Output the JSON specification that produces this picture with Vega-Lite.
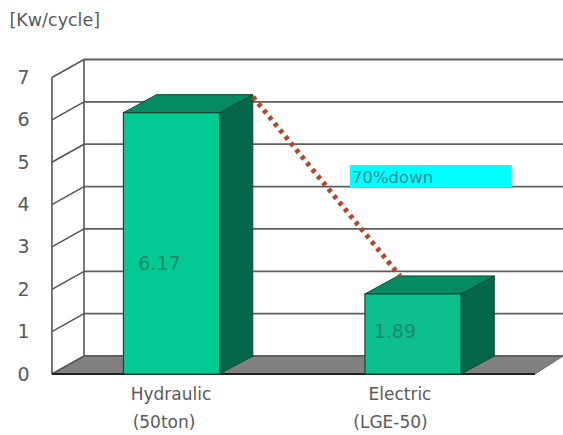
{
"$schema":"https://vega.github.io/schema/vega-lite/v6.json",
"width":563,"height":435,"padding":0,"autosize":{"type":"none"},
"background":"white","view":{"stroke":null},
"config":{"font":"DejaVu Sans"},
"datasets":{
"bars":[{"name":"Hydraulic","c":0,"left":-0.199,"right":0.199,"value":6.17},{"name":"Electric","c":1,"left":0.801,"right":1.199,"value":1.89}],
"sides":[{"name":"Hydraulic","px":0.199,"top":6.17,"base":0},{"name":"Hydraulic","px":0.3366,"top":6.595,"base":0.425},{"name":"Electric","px":1.199,"top":1.89,"base":0},{"name":"Electric","px":1.3366,"top":2.315,"base":0.425}],
"tops":[{"name":"Hydraulic","lv":6.17,"a":-0.199,"b":0.199},{"name":"Hydraulic","lv":6.595,"a":-0.0624,"b":0.3366},{"name":"Electric","lv":1.89,"a":0.801,"b":1.199},{"name":"Electric","lv":2.315,"a":0.9376,"b":1.3366}],
"floor":[{"lv":0,"a":-0.495,"b":1.505},{"lv":0.425,"a":-0.3623,"b":1.6211}],
"grid":[{"level":0,"wall":0.425},{"level":1,"wall":1.425},{"level":2,"wall":2.425},{"level":3,"wall":3.425},{"level":4,"wall":4.425},{"level":5,"wall":5.425},{"level":6,"wall":6.425},{"level":7,"wall":7.425}],
"slants":[{"level":0,"px":-0.495,"v":0},{"level":0,"px":-0.3623,"v":0.425},{"level":1,"px":-0.495,"v":1},{"level":1,"px":-0.3623,"v":1.425},{"level":2,"px":-0.495,"v":2},{"level":2,"px":-0.3623,"v":2.425},{"level":3,"px":-0.495,"v":3},{"level":3,"px":-0.3623,"v":3.425},{"level":4,"px":-0.495,"v":4},{"level":4,"px":-0.3623,"v":4.425},{"level":5,"px":-0.495,"v":5},{"level":5,"px":-0.3623,"v":5.425},{"level":6,"px":-0.495,"v":6},{"level":6,"px":-0.3623,"v":6.425},{"level":7,"px":-0.495,"v":7},{"level":7,"px":-0.3623,"v":7.425}],
"drop":[{"px":0.3375,"v":6.541},{"px":0.946,"v":2.314}],
"labels":[{"t":"Hydraulic","px":-0.002,"v":-0.496},{"t":"(50ton)","px":-0.031,"v":-1.157},{"t":"Electric","px":0.946,"v":-0.496},{"t":"(LGE-50)","px":0.907,"v":-1.157}],
"vals":[{"t":"6.17","px":-0.05,"v":2.6},{"t":"1.89","px":0.925,"v":0.99}]
},
"encoding":{},
"layer":[
{"data":{"name":"floor"},"mark":{"type":"area","orient":"horizontal","fill":"#808080","stroke":"#666666","strokeWidth":1},
 "encoding":{"y":{"field":"lv","type":"quantitative","scale":{"domain":[-1.44,8.83],"nice":false,"zero":false},"axis":{"values":[0,1,2,3,4,5,6,7],"offset":-32,"domain":false,"ticks":false,"grid":false,"labelPadding":3,"labelFontSize":19,"labelColor":"#5a5a5a","labelFont":"DejaVu Sans","title":"[Kw/cycle]","titleAngle":0,"titleX":-23,"titleY":20,"titleAlign":"left","titleBaseline":"middle","titleFontSize":17.5,"titleFontWeight":"normal","titleColor":"#5a5a5a"}},
 "x":{"field":"a","type":"quantitative","scale":{"domain":[-0.7101,1.6211],"nice":false,"zero":false},"axis":null},"x2":{"field":"b"}}},
{"data":{"name":"grid"},"mark":{"type":"rule","color":"#5f5f5f","strokeWidth":1.8},
 "encoding":{"y":{"field":"wall","type":"quantitative"},"x":{"datum":-0.3623},"x2":{"datum":1.6211}}},
{"data":{"name":"slants"},"mark":{"type":"line","color":"#555555","strokeWidth":1.5},
 "encoding":{"x":{"field":"px","type":"quantitative"},"y":{"field":"v","type":"quantitative"},"detail":{"field":"level"}}},
{"data":{"name":"grid"},"mark":{"type":"rule","color":"#555555","strokeWidth":1.6},
 "transform":[{"filter":"datum.level==0"}],
 "encoding":{"x":{"datum":-0.3623},"y":{"datum":0.425},"y2":{"datum":7.425}}},
{"data":{"name":"grid"},"mark":{"type":"rule","color":"#555555","strokeWidth":1.6},
 "transform":[{"filter":"datum.level==0"}],
 "encoding":{"x":{"datum":-0.495},"y":{"datum":0},"y2":{"datum":7}}},
{"data":{"name":"grid"},"mark":{"type":"rule","color":"#222222","strokeWidth":1.8},
 "transform":[{"filter":"datum.level==0"}],
 "encoding":{"y":{"datum":0},"x":{"datum":-0.495},"x2":{"datum":1.505}}},
{"data":{"name":"sides"},"mark":{"type":"area","fill":"#04664a","stroke":"#0a4a38","strokeWidth":1},
 "encoding":{"x":{"field":"px","type":"quantitative"},"y":{"field":"top","type":"quantitative"},"y2":{"field":"base"},"detail":{"field":"name"}}},
{"data":{"name":"tops"},"mark":{"type":"area","orient":"horizontal","fill":"#068a62","stroke":"#0a4a38","strokeWidth":1},
 "encoding":{"y":{"field":"lv","type":"quantitative"},"x":{"field":"a","type":"quantitative"},"x2":{"field":"b"},"detail":{"field":"name"}}},
{"data":{"name":"bars"},"mark":{"type":"rect","stroke":"#0a4a38","strokeWidth":1.2},
 "encoding":{"x":{"field":"left","type":"quantitative"},"x2":{"field":"right"},"y":{"field":"value","type":"quantitative"},"y2":{"datum":0},
 "color":{"field":"name","type":"nominal","legend":null,"scale":{"domain":["Hydraulic","Electric"],"range":["#03c993","#0dbf8c"]}}}},
{"data":{"name":"drop"},"mark":{"type":"line","color":"#b8452a","strokeWidth":5,"strokeDash":[4,4.5]},
 "encoding":{"x":{"field":"px","type":"quantitative"},"y":{"field":"v","type":"quantitative"}}},
{"data":{"values":[{"note":"70%down","a":0.739,"b":1.409,"hi":4.935,"lo":4.416,"px":0.747,"v":4.628}]},
 "layer":[
 {"mark":{"type":"rect","color":"#00ffff"},"encoding":{"x":{"field":"a","type":"quantitative"},"x2":{"field":"b"},"y":{"field":"hi","type":"quantitative"},"y2":{"field":"lo"}}},
 {"mark":{"type":"text","align":"left","fontSize":16.5,"color":"#3a8d96"},"encoding":{"x":{"field":"px","type":"quantitative"},"y":{"field":"v","type":"quantitative"},"text":{"field":"note"}}}
 ]},
{"data":{"name":"vals"},"mark":{"type":"text","fontSize":19,"color":"#1f8a66"},
 "encoding":{"x":{"field":"px","type":"quantitative"},"y":{"field":"v","type":"quantitative"},"text":{"field":"t"}}},
{"data":{"name":"labels"},"mark":{"type":"text","fontSize":17,"color":"#5a5a5a"},
 "encoding":{"x":{"field":"px","type":"quantitative"},"y":{"field":"v","type":"quantitative"},"text":{"field":"t"}}}
]
}
